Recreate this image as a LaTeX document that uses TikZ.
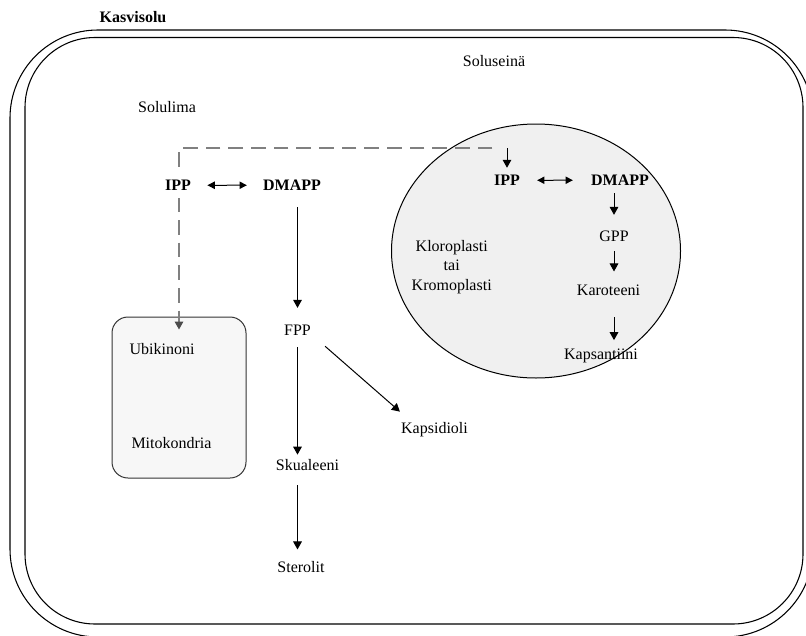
\documentclass[tikz,border=0pt]{standalone}
\usepackage{fontspec}
\setmainfont{Liberation Serif}
\usetikzlibrary{arrows.meta,calc,shapes.geometric}
\pgfdeclarelayer{fills}
\pgfdeclarelayer{links}
\pgfsetlayers{fills,links,main}

\begin{document}
\begin{tikzpicture}[x=0.75pt,y=-0.75pt,
  lbl/.style={inner sep=0pt, anchor=base, font=\fontsize{12}{14}\selectfont},
  bold/.style={lbl, font=\fontsize{12}{14}\selectfont\bfseries},
  wall/.style={draw=black, line width=0.8pt},
  flow/.style={draw=black, line width=0.75pt, -{Triangle[length=6pt,width=6.5pt]}},
  swap/.style={draw=black, line width=0.75pt,
    {Triangle[length=5.5pt,width=5.5pt]}-{Triangle[length=5.5pt,width=5.5pt]}},
  transport/.style={draw=black!50, line width=0.9pt, dash pattern=on 11pt off 6pt,
    -{Triangle[length=6pt,width=6.5pt,color=black!70]}},
  organelle/.style={draw=black, line width=0.75pt, inner sep=0pt}]

\useasboundingbox (0,0) rectangle (806,635);
\clip (0,0) rectangle (806,635);

% cell wall: two outlines
\draw[wall, rounded corners=66pt] (10,30) rectangle (813,637);
\draw[wall, rounded corners=52.5pt] (25,37.5) rectangle (803,624);

% organelles
\begin{pgfonlayer}{fills}
  \node[organelle, ellipse, fill=black!6, minimum width=216.75pt, minimum height=190.5pt]
    (plastid) at (536,251) {};
  \node[organelle, draw=black!80, rounded corners=12pt, fill=black!3,
    minimum width=100.5pt, minimum height=120.75pt] (mito) at (179,397.5) {};
\end{pgfonlayer}

% labels
\node[bold] (title) at (133,23) {Kasvisolu};
\node[lbl] (wallname) at (494,66) {Soluseinä};
\node[lbl] (cyto) at (167,112) {Solulima};

\node[bold, fill=white, inner xsep=1.5pt, inner ysep=5.5pt] (ippL) at (178,190.5) {IPP};
\node[bold] (dmappL) at (292,190.5) {DMAPP};
\node[lbl] (fpp) at (297.5,335) {FPP};
\node[lbl] (skual) at (307.5,470) {Skualeeni};
\node[lbl] (sterol) at (301,572.7) {Sterolit};
\node[lbl] (kapsid) at (434.5,433) {Kapsidioli};

\node[lbl] (ubi) at (162,354) {Ubikinoni};
\node[lbl] (mitoname) at (171.5,448) {Mitokondria};

\node[bold] (ippR) at (507,185.5) {IPP};
\node[bold] (dmappR) at (620,185.5) {DMAPP};
\node[lbl] (gpp) at (614,241.7) {GPP};
\node[lbl] (karot) at (608.5,295) {Karoteeni};
\node[lbl] (kapsan) at (601,359) {Kapsantiini};
\node[lbl] (plastA) at (451.7,251.5) {Kloroplasti};
\node[lbl] (plastB) at (451.7,270.5) {tai};
\node[lbl] (plastC) at (451.7,290) {Kromoplasti};

% cytosolic pathway
\draw[swap, shorten <=10.7pt, shorten >=12pt] (ippL.east) -- (dmappL.west);
\draw[flow, shorten <=12.4pt, shorten >=12.3pt] (fpp |- dmappL.south) -- (fpp.north);
\draw[flow, shorten <=9pt, shorten >=3pt] (fpp.south) -- (fpp.south |- skual.north);
\draw[flow, shorten <=11.25pt, shorten >=8.9pt] (fpp.south |- skual.south) -- (fpp.south |- sterol.north);
\draw[flow] ($(fpp.south east)+(14,11)$) -- ($(kapsid.north west)+(-1,-10)$);

% plastid pathway
\draw[swap, shorten <=12.75pt, shorten >=13.5pt] (ippR.east) -- (dmappR.west);
\draw[flow, shorten <=5.6pt, shorten >=12pt] (gpp |- dmappR.south) -- (gpp.north);
\draw[flow, shorten <=7pt, shorten >=9.5pt] (gpp.south) -- (gpp.south |- karot.north);
\draw[flow, shorten <=16.3pt, shorten >=6pt] (gpp.south |- karot.south) -- (gpp.south |- kapsan.north);

% IPP exchange between compartments
\coordinate (split) at (ippR.north |- 0,148);
\coordinate (turn) at (179,148);
\draw[flow, shorten >=5.25pt] (split) -- (ippR.north);
\begin{pgfonlayer}{links}
  \draw[transport, shorten <=11pt] (split) -- (turn) -- ($(turn |- mito.north)+(0,13)$);
\end{pgfonlayer}

\end{tikzpicture}
\end{document}
